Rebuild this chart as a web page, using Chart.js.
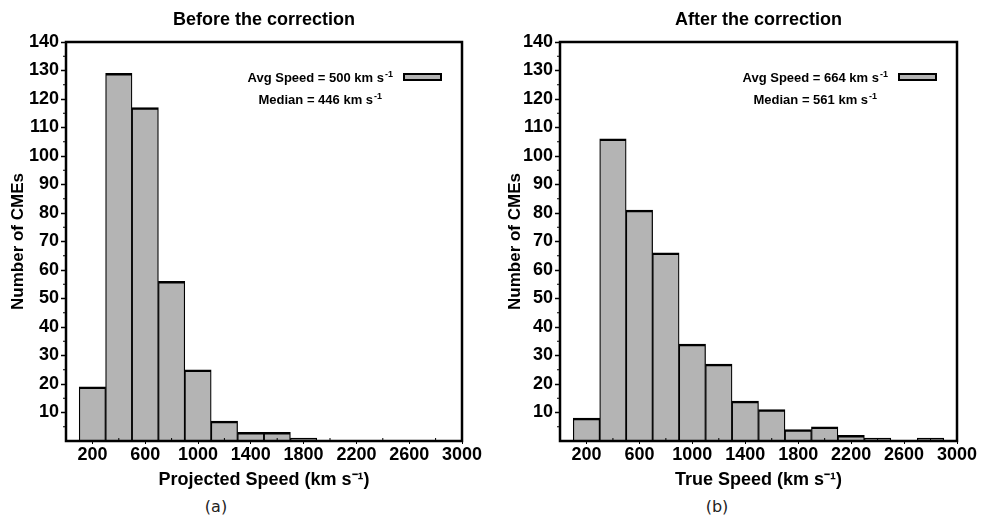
<!DOCTYPE html>
<html lang="en">
<head>
  <meta charset="UTF-8">
  <title>CME speed distribution</title>
  <style>
    html, body {
      margin: 0;
      padding: 0;
      background: #fff;
    }
    .panel {
      position: absolute;
      top: 0;
    }
    .panel canvas {
      display: block;
    }
    .caption {
      position: absolute;
      top: 497px;
      width: 60px;
      margin-left: -30px;
      text-align: center;
      font: 16px "DejaVu Sans", sans-serif;
      line-height: 20px;
      color: #222;
    }
  </style>
</head>
<body>
  <div class="panel" style="left:0">
    <canvas id="before-chart" width="496" height="495"></canvas>
  </div>
  <div class="panel" style="left:496px">
    <canvas id="after-chart" width="497" height="495"></canvas>
  </div>
  <div class="caption" style="left:216px">(a)</div>
  <div class="caption" style="left:717px">(b)</div>

  <script src="https://cdn.jsdelivr.net/npm/chart.js@4.4.1/dist/chart.umd.min.js"></script>
  <script>
    // bin centres (km/s), bins are 200 km/s wide
    const BIN_CENTERS = [200, 400, 600, 800, 1000, 1200, 1400, 1600, 1800, 2000, 2200, 2400, 2600, 2800];
    const BEFORE_COUNTS = [19, 129, 117, 56, 25, 7, 3, 3, 1, 0, 0, 0, 0, 0];
    const AFTER_COUNTS = [8, 106, 81, 66, 34, 27, 14, 11, 4, 5, 2, 1, 0, 1];

    const X_TICKS = [200, 600, 1000, 1400, 1800, 2200, 2600, 3000];
    const Y_TICKS = [10, 20, 30, 40, 50, 60, 70, 80, 90, 100, 110, 120, 130, 140];

    const BEFORE_STATS = { avg: 500, median: 446 };
    const AFTER_STATS = { avg: 664, median: 561 };

    const BAR_FILL = '#b4b4b4';
    const FONT = '"Liberation Sans", Arial, Helvetica, sans-serif';

    Chart.defaults.font.family = FONT;
    Chart.defaults.color = '#000';

    // box around the plot + small minor ticks
    const framePlugin = {
      id: 'frame',
      afterDatasetsDraw(chart) {
        const { ctx, chartArea: a, scales: { x, y } } = chart;
        ctx.save();
        ctx.strokeStyle = '#000';
        ctx.lineWidth = 1;
        ctx.beginPath();
        for (let v = 5; v < 140; v += 10) {
          const py = y.getPixelForValue(v);
          ctx.moveTo(a.left - 3, py);
          ctx.lineTo(a.left, py);
        }
        for (let v = 400; v < 3000; v += 400) {
          const px = x.getPixelForValue(v);
          ctx.moveTo(px, a.bottom);
          ctx.lineTo(px, a.bottom - 3);
        }
        ctx.stroke();
        ctx.lineWidth = 2.5;
        ctx.strokeRect(a.left, a.top, a.right - a.left, a.bottom - a.top);
        ctx.restore();
      }
    };

    // legend box with the average / median text
    const statsPlugin = {
      id: 'stats',
      afterDraw(chart, args, opts) {
        const { ctx, chartArea: a } = chart;
        const boxL = a.right - 58;
        const boxT = a.top + 32;
        const mainFont = 'bold 13px ' + FONT;
        const supFont = 'bold 9px ' + FONT;

        ctx.save();
        ctx.fillStyle = BAR_FILL;
        ctx.fillRect(boxL, boxT, 37, 6);
        ctx.strokeStyle = '#000';
        ctx.lineWidth = 2;
        ctx.strokeRect(boxL, boxT, 37, 6);

        const measure = (t) => {
          ctx.font = mainFont;
          const w = ctx.measureText(t).width;
          ctx.font = supFont;
          return [w, ctx.measureText('-1').width + 1];
        };
        const draw = (t, x0, base) => {
          const [w] = measure(t);
          ctx.fillStyle = '#000';
          ctx.textBaseline = 'alphabetic';
          ctx.textAlign = 'left';
          ctx.font = mainFont;
          ctx.fillText(t, x0, base);
          ctx.font = supFont;
          ctx.fillText('-1', x0 + w + 1, base - 5);
        };

        const avgText = 'Avg Speed = ' + opts.avg + ' km s';
        const [aw, as] = measure(avgText);
        const avgLeft = boxL - 11 - aw - as;
        draw(avgText, avgLeft, a.top + 40);

        const centre = avgLeft + (aw + as) / 2;
        const medText = 'Median = ' + opts.median + ' km s';
        const [mw, ms] = measure(medText);
        draw(medText, centre - (mw + ms) / 2, a.top + 62);
        ctx.restore();
      }
    };

    function makeChart(id, counts, titleText, xTitle, stats, yWidth, padRight, yTitlePad) {
      return new Chart(document.getElementById(id), {
        type: 'bar',
        data: {
          datasets: [{
            data: BIN_CENTERS.map((c, i) => ({ x: c, y: counts[i] })),
            backgroundColor: BAR_FILL,
            borderColor: '#000',
            borderWidth: { top: 2.5, left: 1.25, right: 1.25, bottom: 0 },
            borderSkipped: false,
            barPercentage: 1,
            categoryPercentage: 1
          }]
        },
        plugins: [framePlugin, statsPlugin],
        options: {
          responsive: false,
          animation: false,
          layout: { padding: { left: 0, right: padRight, top: 0, bottom: 0 } },
          plugins: {
            legend: { display: false },
            tooltip: { enabled: false },
            title: {
              display: true,
              text: titleText,
              fullSize: false,
              color: '#000',
              font: { size: 18, weight: 'bold' },
              padding: { top: 9, bottom: 11.4 }
            },
            stats: stats
          },
          scales: {
            x: {
              type: 'linear',
              min: 0,
              max: 3000,
              offset: false,
              afterBuildTicks: s => { s.ticks = X_TICKS.map(v => ({ value: v })); },
              afterFit: s => { s.height = 54; },
              grid: { offset: false, drawOnChartArea: false, drawTicks: true, tickLength: 3, tickColor: '#000', tickWidth: 1 },
              border: { display: false },
              ticks: {
                autoSkip: false,
                maxRotation: 0,
                padding: 0,
                color: '#000',
                font: { size: 18, weight: 'bold' },
                callback: v => String(v)
              },
              title: {
                display: true,
                text: xTitle,
                color: '#000',
                font: { size: 18, weight: 'bold' },
                padding: { top: 0, bottom: 4 }
              }
            },
            y: {
              min: 0,
              max: 140,
              afterBuildTicks: s => { s.ticks = Y_TICKS.map(v => ({ value: v })); },
              afterFit: s => { s.width = yWidth; },
              grid: { drawOnChartArea: false, drawTicks: true, tickLength: 5, tickColor: '#000', tickWidth: 1.5 },
              border: { display: false },
              ticks: { padding: 2, color: '#000', font: { size: 18, weight: 'bold' } },
              title: {
                display: true,
                text: 'Number of CMEs',
                color: '#000',
                font: { size: 17, weight: 'bold' },
                padding: { top: yTitlePad, bottom: 0 }
              }
            }
          }
        }
      });
    }

    makeChart('before-chart', BEFORE_COUNTS, 'Before the correction', 'Projected Speed (km s⁻¹)', BEFORE_STATS, 66, 34, 8);
    makeChart('after-chart', AFTER_COUNTS, 'After the correction', 'True Speed (km s⁻¹)', AFTER_STATS, 64, 36, 9);
  </script>
</body>
</html>
